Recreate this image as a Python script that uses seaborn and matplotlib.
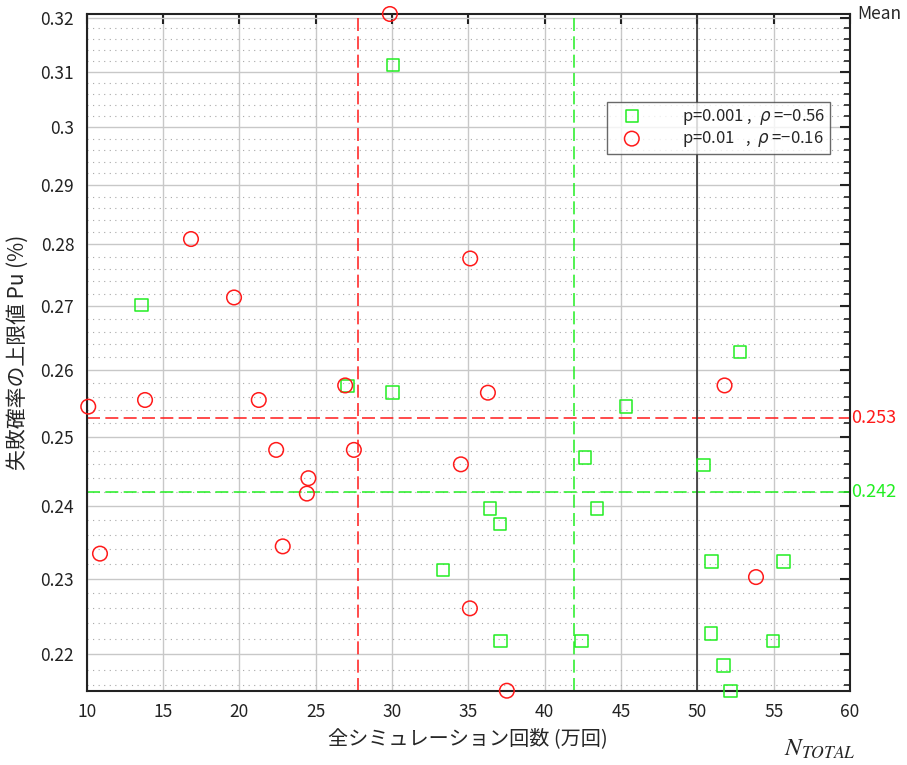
import numpy as np
import pandas as pd
import seaborn as sns
import matplotlib.pyplot as plt
from matplotlib.ticker import FixedLocator, FuncFormatter, NullFormatter
import matplotlib.transforms as mtransforms

# data: N_total (x10^4 runs) vs upper failure probability Pu (%)
x_p001 = [30.07, 13.58, 27.08, 30.03, 36.43, 33.33, 52.81, 45.34, 42.65, 50.39,
          37.06, 43.42, 50.93, 55.65, 37.10, 42.41, 50.89, 54.97, 51.72, 52.18]
y_p001 = [0.3112, 0.2702, 0.2576, 0.2566, 0.2397, 0.2312, 0.2628, 0.2545, 0.2470, 0.2459,
          0.2375, 0.2397, 0.2323, 0.2323, 0.2217, 0.2217, 0.2227, 0.2217, 0.2185, 0.2153]

x_p01 = [29.86, 16.83, 19.65, 35.12, 10.10, 13.82, 21.27, 26.93, 36.28, 22.41,
         27.50, 34.51, 24.52, 24.42, 10.87, 22.84, 35.10, 51.78, 53.84, 37.52]
y_p01 = [0.3207, 0.2809, 0.2714, 0.2777, 0.2545, 0.2555, 0.2555, 0.2577, 0.2566, 0.2481,
         0.2481, 0.2460, 0.2440, 0.2418, 0.2334, 0.2344, 0.2260, 0.2577, 0.2302, 0.2153]

labels = ["p=0.001 ,  $\\rho$ =\u22120.56", "p=0.01   ,  $\\rho$ =\u22120.16"]
n_ref = 50

y_major = [0.22, 0.23, 0.24, 0.25, 0.26, 0.27, 0.28, 0.29, 0.30, 0.31, 0.32]
x_major = [10, 15, 20, 25, 30, 35, 40, 45, 50, 55, 60]

green = "#22ee22"
red = "#ff1a1a"

sns.set_style("white")
plt.rcParams['font.family'] = ['Noto Sans CJK JP', 'DejaVu Sans']
plt.rcParams['mathtext.fontset'] = 'dejavusans'

df = pd.DataFrame({
    "N": x_p001 + x_p01,
    "Pu": y_p001 + y_p01,
    "grp": ["p001"] * len(x_p001) + ["p01"] * len(x_p01),
})

fig = plt.figure(figsize=(9.07, 7.65), dpi=100)
ax = fig.add_axes([0.0956, 0.0971, 0.8416, 0.8846])

ax.set_yscale("log")
ax.set_xlim(10, 60)
ax.set_ylim(0.2153, 0.3207)

# grid
ax.yaxis.set_major_locator(FixedLocator(y_major))
ax.yaxis.set_minor_locator(FixedLocator(np.round(np.arange(0.214, 0.322, 0.002), 3)))
ax.yaxis.set_major_formatter(FuncFormatter(lambda v, p: f"{v:g}"))
ax.yaxis.set_minor_formatter(NullFormatter())
ax.xaxis.set_major_locator(FixedLocator(x_major))
ax.grid(which="major", color="#c8c8c8", lw=1.0, ls="-")
ax.grid(which="minor", axis="y", color="#a8a8a8", lw=0.8, ls=(0, (1, 4)))
ax.set_axisbelow(True)

# mean lines
for xs, ys, c in [(x_p01, y_p01, red), (x_p001, y_p001, green)]:
    ax.axvline(np.mean(xs), color=c, lw=1.1, dashes=(8.5, 3.5), zorder=2)
    ax.axhline(np.mean(ys), color=c, lw=1.1, dashes=(8.5, 3.5), zorder=2)
ax.axvline(n_ref, color="#333333", lw=1.2, zorder=2)

sns.scatterplot(data=df[df.grp == "p001"], x="N", y="Pu", ax=ax, marker="s", s=80,
                facecolor="none", edgecolor=green, linewidth=1.1, legend=False,
                label=labels[0], zorder=3, clip_on=False)
sns.scatterplot(data=df[df.grp == "p01"], x="N", y="Pu", ax=ax, marker="o", s=110,
                facecolor="none", edgecolor=red, linewidth=1.1, legend=False,
                label=labels[1], zorder=3, clip_on=False)

leg = ax.legend(loc="upper right", bbox_to_anchor=(0.985, 0.883), fontsize=12,
                frameon=True, fancybox=False, edgecolor="#444444", handletextpad=1.8,
                borderpad=0.3, labelspacing=0.15, handlelength=2.4)
leg.get_frame().set_linewidth(1.0)

# spines and ticks
for sp in ax.spines.values():
    sp.set_visible(True)
    sp.set_color("#222222")
    sp.set_linewidth(1.5)
ax.tick_params(which="major", direction="in", length=7, width=1.5, top=True, right=True,
               labelsize=12.5, colors="#222222", pad=9)
ax.tick_params(which="minor", direction="in", length=4, width=1.2, top=False, right=True,
               colors="#222222")
ax.tick_params(axis="x", which="minor", bottom=False, top=False)

ax.set_xlabel("全シミュレーション回数 (万回)", fontsize=14.5, labelpad=5)
ax.set_ylabel("失敗確率の上限値 Pu (%)", fontsize=15, labelpad=8)

# right-side annotations
trans = mtransforms.blended_transform_factory(ax.transAxes, ax.transData)
ax.text(1.002, np.mean(y_p01), f"{np.mean(y_p01):.3f}", color=red, fontsize=13,
        ha="left", va="center", transform=trans)
ax.text(1.002, np.mean(y_p001), f"{np.mean(y_p001):.3f}", color=green, fontsize=13,
        ha="left", va="center", transform=trans)
ax.text(1.01, 1.0, "Mean", fontsize=12.5, ha="left", va="center", transform=ax.transAxes)
ax.text(0.96, -0.085, "$\\mathit{N}_{\\mathit{TOTAL}}$", fontsize=18, ha="center",
        va="center", transform=ax.transAxes, math_fontfamily="stix")

fig.savefig("out.png", dpi=100)
